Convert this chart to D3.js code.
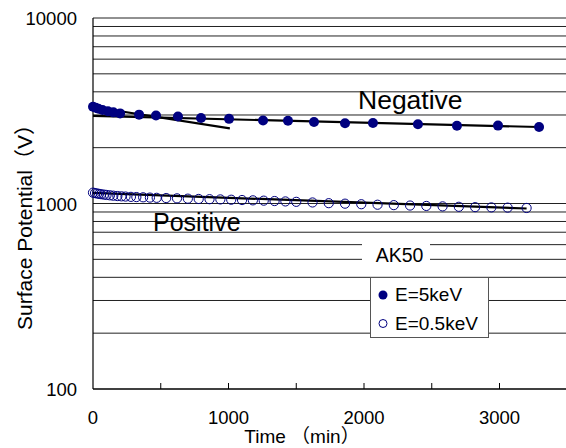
<!DOCTYPE html>
<html>
<head>
<meta charset="utf-8">
<script src="https://cdn.jsdelivr.net/npm/d3@7"></script>
<style>
    body { margin: 0; background: #fff; }
    text { font-family: "Liberation Sans", Arial, "Noto Sans CJK JP", sans-serif; fill: #000; }
</style>
</head>
<body>
<svg id="chart" width="566" height="448"></svg>
<script>
// negative charge, E=5keV
const negTime = [0, 20, 40, 70, 110, 150, 200, 340, 465, 627, 797, 1004, 1255, 1439, 1631, 1860, 2066, 2398, 2686, 2989, 3292];
const negValue = [3320, 3280, 3240, 3190, 3140, 3100, 3060, 3013, 2980, 2945, 2890, 2860, 2800, 2795, 2751, 2706, 2716, 2673, 2627, 2630, 2585];

// positive charge, E=0.5keV
const posTime = [0, 15, 30, 45, 60, 80, 100, 125, 150, 180, 210, 240, 280, 320, 370, 420, 470, 540, 620, 700, 780, 860, 940, 1020,
    1100, 1180, 1260, 1340, 1420, 1500, 1620, 1740, 1860, 1980, 2100, 2220, 2340, 2460, 2580, 2700, 2820, 2940, 3060, 3200];
const posValue = [1144, 1138, 1132, 1127, 1122, 1117, 1112, 1107, 1102, 1097, 1093, 1090, 1086, 1083, 1080, 1076, 1073, 1070, 1066, 1062, 1058, 1055, 1052, 1048,
    1044, 1040, 1036, 1031, 1026, 1021, 1013, 1004, 998, 991, 985, 980, 975, 970, 965, 960, 956, 953, 950, 946];

// fitted lines
const fitSteep = [[0, 3313], [1010, 2540]];
const fitNeg = [[0, 2965], [3290, 2585]];
const fitPos = [[0, 1140], [3200, 940]];

const xTicks = [0, 1000, 2000, 3000];
const xMinorTicks = [500, 1500, 2500, 3500];
const yTicks = [100, 1000, 10000];

const svg = d3.select("#chart");

const x = d3.scaleLinear().domain([0, 3500]).range([93, 567.25]);
const y = d3.scaleLog().domain([100, 10000]).range([389, 18]);

// horizontal gridlines at every log step
const gridValues = [];
[100, 1000].forEach(base => {
    for (let k = 2; k <= 10; k++) gridValues.push(base * k);
});

svg.append("g")
    .selectAll("line")
    .data(gridValues)
    .join("line")
    .attr("x1", x(0))
    .attr("x2", 566)
    .attr("y1", d => y(d))
    .attr("y2", d => y(d))
    .attr("stroke", "#222")
    .attr("stroke-width", 1);

// axes
svg.append("line")
    .attr("x1", x(0)).attr("x2", x(0))
    .attr("y1", y(10000)).attr("y2", y(100))
    .attr("stroke", "#000").attr("stroke-width", 1.2);

svg.append("line")
    .attr("x1", x(0)).attr("x2", 566)
    .attr("y1", y(100)).attr("y2", y(100))
    .attr("stroke", "#000").attr("stroke-width", 1.5);

svg.append("g")
    .selectAll("line")
    .data(xTicks.slice(1).concat(xMinorTicks))
    .join("line")
    .attr("x1", d => x(d)).attr("x2", d => x(d))
    .attr("y1", y(100)).attr("y2", y(100) - 6)
    .attr("stroke", "#000").attr("stroke-width", 1);

svg.append("g")
    .selectAll("text")
    .data(xTicks)
    .join("text")
    .attr("x", d => x(d))
    .attr("y", 424)
    .attr("text-anchor", "middle")
    .style("font-size", "18.5px")
    .text(d => d);

svg.append("g")
    .selectAll("text")
    .data(yTicks)
    .join("text")
    .attr("x", 77)
    .attr("y", d => y(d) + 7)
    .attr("text-anchor", "end")
    .style("font-size", "18.5px")
    .text(d => d);

svg.append("text")
    .attr("x", 302)
    .attr("y", 443)
    .attr("text-anchor", "middle")
    .style("font-size", "19px")
    .text("Time （min）");

svg.append("text")
    .attr("transform", "translate(32,222) rotate(-90)")
    .attr("text-anchor", "middle")
    .style("font-size", "21px")
    .text("Surface Potential（V）");

// fit lines
const line = d3.line().x(d => x(d[0])).y(d => y(d[1]));
[fitSteep, fitNeg, fitPos].forEach(f => {
    svg.append("path")
        .attr("d", line(f))
        .attr("fill", "none")
        .attr("stroke", "#000")
        .attr("stroke-width", 2.2);
});

// data points
const negData = negTime.map((t, i) => [t, negValue[i]]);
const posData = posTime.map((t, i) => [t, posValue[i]]);

svg.append("g")
    .selectAll("circle")
    .data(posData)
    .join("circle")
    .attr("cx", d => x(d[0]))
    .attr("cy", d => y(d[1]))
    .attr("r", 4.6)
    .attr("fill", "none")
    .attr("stroke", "#000080")
    .attr("stroke-width", 1);

svg.append("g")
    .selectAll("circle")
    .data(negData)
    .join("circle")
    .attr("cx", d => x(d[0]))
    .attr("cy", d => y(d[1]))
    .attr("r", 5)
    .attr("fill", "#000080");

// series labels
svg.append("text")
    .attr("x", 358).attr("y", 109)
    .style("font-size", "26.5px")
    .text("Negative");

svg.append("text")
    .attr("x", 153).attr("y", 231)
    .style("font-size", "25px")
    .text("Positive");

// AK50 label with white background
svg.append("rect")
    .attr("x", 362).attr("y", 243)
    .attr("width", 68).attr("height", 24)
    .attr("fill", "#fff");

svg.append("text")
    .attr("x", 399.5).attr("y", 262)
    .attr("text-anchor", "middle")
    .style("font-size", "19.5px")
    .text("AK50");

// legend
const legend = svg.append("g");
legend.append("rect")
    .attr("x", 370.5).attr("y", 277.5)
    .attr("width", 118).attr("height", 60)
    .attr("fill", "#fff")
    .attr("stroke", "#555")
    .attr("stroke-width", 1);

legend.append("circle")
    .attr("cx", 383).attr("cy", 295)
    .attr("r", 4.5)
    .attr("fill", "#000080");

legend.append("circle")
    .attr("cx", 383).attr("cy", 323.5)
    .attr("r", 4)
    .attr("fill", "none")
    .attr("stroke", "#000080")
    .attr("stroke-width", 1);

legend.append("text")
    .attr("x", 395).attr("y", 301)
    .style("font-size", "19px")
    .text("E=5keV");

legend.append("text")
    .attr("x", 395).attr("y", 330)
    .style("font-size", "19px")
    .text("E=0.5keV");
</script>
</body>
</html>
